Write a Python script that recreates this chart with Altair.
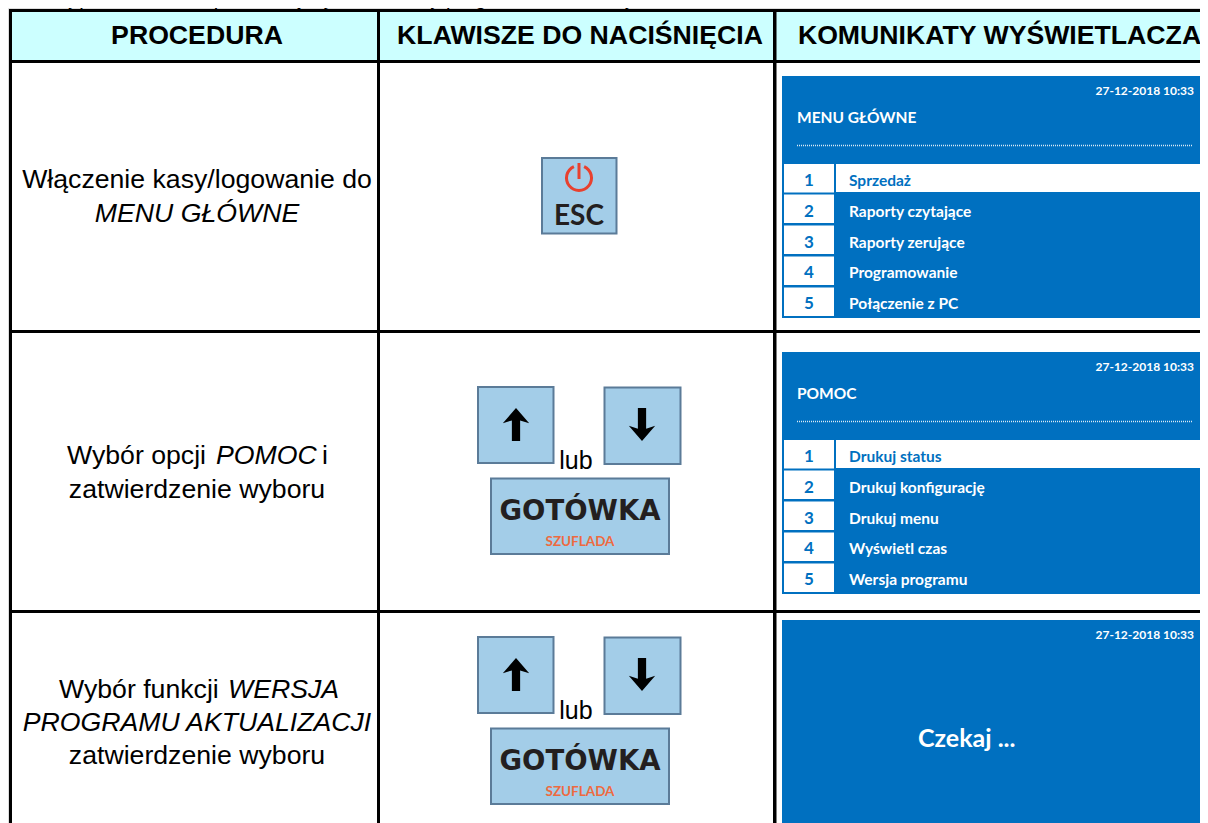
import math
import altair as alt
import pandas as pd

# ---------- content ----------
INTRO = "Poniżej przedstawiono procedurę wydruku wersji programu aktualizacji."
HEADERS = ["PROCEDURA", "KLAWISZE DO NACIŚNIĘCIA", "KOMUNIKATY WYŚWIETLACZA"]
DATE = "27-12-2018 10:33"
MENU_1_TITLE = "MENU GŁÓWNE"
MENU_1 = ["Sprzedaż", "Raporty czytające", "Raporty zerujące", "Programowanie", "Połączenie z PC"]
MENU_2_TITLE = "POMOC"
MENU_2 = ["Drukuj status", "Drukuj konfigurację", "Drukuj menu", "Wyświetl czas", "Wersja programu"]
NUMBERS = ["1", "2", "3", "4", "5"]
WAIT = "Czekaj ..."

# ---------- palette ----------
BLACK = "#000000"
HEAD = "#CCFFFF"
PANEL = "#0070C0"
KEY = "#A3CDE8"
KEY_EDGE = "#5B7B98"
INK = "#231F20"
RED = "#E8412F"
ORANGE = "#EE6A40"

NARROW = "Lato"
ARIAL = "Liberation Sans"
BODY = 26.67

# ---------- layout (page pixels) ----------
W, H = 1192, 815
R = 8 + W
X = alt.Scale(domain=[8, 8 + W], range=[0, W])
Y = alt.Scale(domain=[8, 8 + H], range=[0, H])
xe = alt.X("x:Q", scale=X, axis=None)
ye = alt.Y("y:Q", scale=Y, axis=None)


def rects(rows, **mark):
    df = pd.DataFrame(rows, columns=["x", "x2", "y", "y2", "c"])
    return alt.Chart(df).mark_rect(**mark).encode(
        x=xe, x2="x2:Q", y=ye, y2="y2:Q",
        fill=alt.Fill("c:N", scale=None),
    )


def keys(rows):
    df = pd.DataFrame(rows, columns=["x", "x2", "y", "y2"])
    return alt.Chart(df).mark_rect(fill=KEY, stroke=KEY_EDGE, strokeWidth=2).encode(
        x=xe, x2="x2:Q", y=ye, y2="y2:Q")


def texts(rows, font=ARIAL, size=BODY, color=BLACK, align="center", weight="normal", style="normal"):
    df = pd.DataFrame(rows, columns=["x", "y", "t"])
    return alt.Chart(df).mark_text(
        font=font, fontSize=size, color=color, align=align, baseline="alphabetic",
        fontWeight=weight, fontStyle=style,
    ).encode(x=xe, y=ye, text="t:N")


layers = []

# intro line, under the table rules
layers.append(texts([[8, 5, INTRO]], align="left", size=20))

# header band
layers.append(rects([
    [9, 378, 11, 61, HEAD], [378, 775, 11, 61, HEAD], [775, R, 11, 61, HEAD],
]))

# display panels
P1, P2 = 76, 352
panel_rows = []
for top in (P1, P2):
    panel_rows.append([782, R, top, top + 242, PANEL])
    for i, base in enumerate((88, 118.5, 149.5, 180.5, 211.5)):
        panel_rows.append([784, 834, top + base, top + base + 28.5, "#FFFFFF"])
    panel_rows.append([836, R, top + 88, top + 116, "#FFFFFF"])
panel_rows.append([782, R, 620, 823, PANEL])
layers.append(rects(panel_rows))

# dotted separators in the panels
dots = pd.DataFrame({"x": [797, 797], "x2": [1192, 1192], "y": [P1 + 69.5, P2 + 69.5]})
layers.append(alt.Chart(dots).mark_rule(color="#FFFFFF", strokeWidth=1.5, strokeDash=[1, 1], opacity=0.85).encode(
    x=xe, x2="x2:Q", y=ye))

# table rules
layers.append(rects([
    [9, R, 9, 12, BLACK],
    [9, R, 60, 63, BLACK],
    [9, R, 330, 333, BLACK],
    [9, R, 610, 613, BLACK],
    [9, 12, 9, 823, BLACK],
    [377, 380, 9, 823, BLACK],
    [773, 776.5, 9, 823, BLACK],
]))

# keys
keyboxes = [
    [542, 616.5, 158, 233.5],
    [478, 553.5, 387, 463],
    [604.5, 680.5, 387.5, 464],
    [491, 669, 478.5, 554],
    [478, 553.5, 637, 713],
    [604.5, 680.5, 637.5, 714],
    [491, 669, 728.5, 804],
]
layers.append(keys(keyboxes))

# ESC key: power symbol
arc = pd.DataFrame({"x": [579], "y": [178], "a": [0.42], "b": [2 * math.pi - 0.42]})
layers.append(alt.Chart(arc).mark_arc(innerRadius=11, outerRadius=14, color=RED).encode(
    x=xe, y=ye, theta=alt.Theta("a:Q", scale=None), theta2="b:Q"))
stem = pd.DataFrame({"x": [579], "y": [163], "y2": [179]})
layers.append(alt.Chart(stem).mark_rule(color=RED, strokeWidth=3).encode(x=xe, y=ye, y2="y2:Q"))

# arrows
UP = "M0,-1 L0.8,-0.08 L0.25,-0.25 L0.25,1 L-0.25,1 L-0.25,-0.25 L-0.8,-0.08 Z"
DOWN = "M0,1 L0.8,0.08 L0.25,0.25 L0.25,-1 L-0.25,-1 L-0.25,0.25 L-0.8,0.08 Z"
for shape, pts in ((UP, [[516, 424.5], [516, 674.5]]), (DOWN, [[642, 424.5], [642, 674.5]])):
    df = pd.DataFrame(pts, columns=["x", "y"])
    layers.append(alt.Chart(df).mark_point(shape=shape, filled=True, color=BLACK, opacity=1, size=33 * 33).encode(x=xe, y=ye))

# key captions
layers.append(texts([[579, 225, "ESC"]], font=NARROW, size=28, color=INK, weight="bold"))
layers.append(texts([[580, 520, "GOTÓWKA"], [580, 770, "GOTÓWKA"]], font="DejaVu Sans", size=27.5, color=INK, weight="bold"))
layers.append(texts([[580, 546, "SZUFLADA"], [580, 796, "SZUFLADA"]], font=NARROW, size=13.5, color=ORANGE, weight="bold"))
layers.append(texts([[576, 469, "lub"], [576, 719, "lub"]], size=25))

# headers
layers.append(texts([[197, 44, HEADERS[0]], [580, 44, HEADERS[1]], [999.5, 44, HEADERS[2]]], weight="bold"))

# procedure column
layers.append(texts([
    [197, 188, "Włączenie kasy/logowanie do"],
    [197, 498, "zatwierdzenie wyboru"],
    [197, 764, "zatwierdzenie wyboru"],
]))
layers.append(texts([[197, 222, MENU_1_TITLE], [197, 731, "PROGRAMU AKTUALIZACJI"]], style="italic"))
layers.append(texts([[67, 464, "Wybór opcji"], [322, 464, "i"], [59, 698, "Wybór funkcji"]], align="left"))
layers.append(texts([[216, 464, MENU_2_TITLE], [228, 698, "WERSJA"]], align="left", style="italic"))

# display text
for top, title, items in ((P1, MENU_1_TITLE, MENU_1), (P2, MENU_2_TITLE, MENU_2)):
    layers.append(texts([[797, top + 47, title]], font=NARROW, size=15.5, color="#FFFFFF", align="left", weight="bold"))
    layers.append(texts([[1194, top + 19, DATE]], font=NARROW, size=12, color="#FFFFFF", align="right", weight="bold"))
    rows_y = [110, 141, 171.5, 202, 233]
    layers.append(texts([[809, top + yy, n] for n, yy in zip(NUMBERS, rows_y)],
                        font=NARROW, size=17, color=PANEL, weight="bold"))
    layers.append(texts([[849, top + rows_y[0], items[0]]], font=NARROW, size=15.5, color=PANEL, align="left", weight="bold"))
    layers.append(texts([[849, top + yy, t] for t, yy in zip(items[1:], rows_y[1:])],
                        font=NARROW, size=15.5, color="#FFFFFF", align="left", weight="bold"))
layers.append(texts([[1194, 639, DATE]], font=NARROW, size=12, color="#FFFFFF", align="right", weight="bold"))
layers.append(texts([[918, 747, WAIT]], font=NARROW, size=25, color="#FFFFFF", align="left", weight="bold"))

chart = alt.layer(*layers).properties(
    width=W, height=H, padding=0, autosize=alt.AutoSizeParams(type="none"),
).configure_view(stroke=None).configure(background="#FFFFFF")

chart.save("out.html", embed_options={"renderer": "svg", "actions": False})
